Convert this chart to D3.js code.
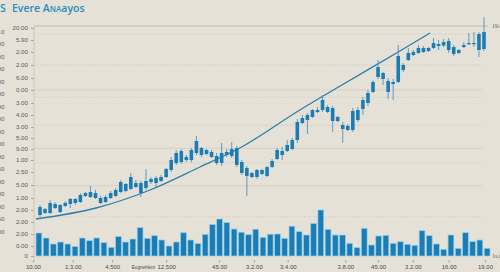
<!DOCTYPE html>
<html>
<head>
<meta charset="utf-8">
<script src="https://cdn.jsdelivr.net/npm/d3@7"></script>
<style>
html, body { margin: 0; padding: 0; background: #e5e1d7; }
svg { display: block; }
</style>
</head>
<body>
<svg id="chart" width="500" height="272"></svg>
<script>
// candles (body low / body high / wick high / wick low), price units
var opens = [41,43,43,48,44,50,52,53,54,60,59,58,53,54,58,60,64,65,67,69,63,68,74,73,75,79,86,93,94,96,96,103,101,102,99,93,93,101,100,91,83,80,79,79,82,80,89,97,101,105,107,116,133,136,139,144,146,144,135,135,127,126,126,136,147,153,164,179,177,164,172,174,186,196,201,203,204,205,208,210,210.5,206,202,203,209,212,212,206,207]
var closes = [49,47,53,52,51,53,57,57,61,63,64,63,58,59,63,66,74,72,79,73,73,75,77,78,79,87,96,103,105,99,106,115,108,106,104,100,103,104,107,108,94,88,83,86,86,89,95,106,105,111,116,134,138,141,146,146,156,149,148,139,131,130,145,146,156,163,174,189,183,175,174,200,191,203,204,208,208,208,213,212,214,215,209,206,211,213,213,222,224]
var highs = [51,48,56,54,52,55,58,58,63,64,70,66,60,61,65,68,76,73,83,76,75,87,79,80,81,88,99,106,107,101,108,120,109,107,106,103,113,107,114,110,96,90,84,87,87,90,97,108,109,116,118,137,141,143,147,149,161,151,150,140,134,132,148,149,159,166,176,196,184,178,177,211,193,208,206,211,210,209,218,216,217,218,211,207,214,223,224,224,239]
var lows = [39,42,42,47,43,49,48,51,53,59,58,57,52,53,57,59,63,64,66,68,59,66,72,69,74,78,84,91,92,94,94,101,99,101,98,91,90,99,98,89,81,60,78,77,81,79,88,96,96,104,106,113,132,122,138,143,144,143,124,134,113,125,124,134,141,150,163,177,171,157,156,173,184,195,200,202,203,204,207,206,209,203,200,202,208,211,209,199,205]

// volumes
var volumes = [23,18,12,14,12,9.5,18,15.3,18,13.3,8.7,19.5,14,17,28.3,17.7,20.3,16,10,14,23.3,16,12.5,21.7,31.5,37,33.5,27,23.8,21.3,26.8,18.7,21.8,22,17.7,29.8,24.3,21,32.5,46,26.7,21,21,12.7,8.3,27.7,11,20,20.7,12.7,14.3,11.7,10.7,25.3,20.3,12,6.7,21,7.7,23.3,14.3,16,7.7]

// trend curve (candle index, price)
var trendIdx = [-0.8, 11.1, 21.8, 31.7, 39.6, 51.5, 59.5, 71, 77.3]
var trendVal = [37, 48, 66, 89, 108, 146, 170, 204, 223]

// axis labels
var yTickVals = [228,216,204,191,178,166,153,141,129,118,107,96,84,71,58,46,34,22,10,0]
var yTickLabels = ["20.00","5.90","2.00","2.00","6.00","0.00","3.00","4.00","3.00","5.00","9.00","1.00","2.50","5.00","1.00","2.00","2.00","2.00","0.00","0"]
var outerLabels = ["3.0","2.00","2.00","1.00","0.00","3.00","4.00","3.00","5.00","9.00","1.00","2.50","5.00","1.00","2.00","2.50","2.00"]
var xTickPos = [-1.4, 6.5, 14.3, 25, 35.5, 42.4, 49.1, 60.5, 67, 73.9, 81, 88.2]
var xTickLabels = ["10.00","1.3.00","4.500","12.500","45.00","3.2.00","3.4.00","3.8.00","45.00","3.2.00","16.00","19.00"]
var gridSolid = [166, 107.7, 70.3]
var gridDotted = [222, 191, 158.7, 130.7, 93.3, 39.3]

const width = 500
const height = 272
var azul = "#1c7db6"
var svg = d3.select("#chart")

svg.append("rect").attr("width", width).attr("height", height).attr("fill", "#e5e1d7")

// escalas
var x = d3.scaleLinear().domain([0, opens.length - 1]).range([40, 484])
var y = d3.scaleLinear().domain([0, 228]).range([256, 28])
var xVol = d3.scaleBand().domain(d3.range(volumes.length)).range([36, 490]).paddingInner(0.2)
var yVol = d3.scaleLinear().domain([0, 50]).range([256, 206])

// grade
svg.append("g").selectAll("line").data(gridSolid).join("line")
    .attr("x1", 34).attr("x2", 482)
    .attr("y1", d => y(d)).attr("y2", d => y(d))
    .attr("stroke", "#d2cdc2").attr("stroke-width", 0.8)
svg.append("g").selectAll("line").data(gridDotted).join("line")
    .attr("x1", 34).attr("x2", 482)
    .attr("y1", d => y(d)).attr("y2", d => y(d))
    .attr("stroke", "#cbc6ba").attr("stroke-width", 0.7)
    .attr("stroke-dasharray", "1.5,1.5")
svg.append("line")
    .attr("x1", 34).attr("x2", 488)
    .attr("y1", y(230)).attr("y2", y(230))
    .attr("stroke", "#b9b3a8").attr("stroke-width", 0.8)

// eixo y
var eixoY = svg.append("g")
    .attr("transform", "translate(34,0)")
    .call(d3.axisLeft(y).tickValues(yTickVals).tickSize(3).tickPadding(3)
        .tickFormat((d, i) => yTickLabels[i]))
eixoY.select(".domain").remove()
eixoY.append("line").attr("x1", 0).attr("x2", 0).attr("y1", 26).attr("y2", 262)
    .attr("stroke", "#c4bfb4").attr("stroke-width", 0.8)
eixoY.selectAll(".tick line").attr("stroke", "#aaa49a")
eixoY.selectAll("text").attr("fill", "#5c5c5c")
    .style("font-family", "'Liberation Sans', sans-serif").style("font-size", "6.2px")

// rotulos cortados da esquerda
var yOuter = d3.scalePoint().domain(d3.range(outerLabels.length)).range([32, 232])
svg.append("g").selectAll("text").data(outerLabels).join("text")
    .attr("x", 4.5).attr("y", (d, i) => yOuter(i)).attr("dy", "0.32em")
    .attr("text-anchor", "end")
    .style("font-family", "'Liberation Sans', sans-serif").style("font-size", "6.2px")
    .attr("fill", "#5c5c5c").text(d => d)

// eixo x
var eixoX = svg.append("g")
    .attr("transform", "translate(0,260)")
    .call(d3.axisBottom(x).tickValues(xTickPos).tickSize(2.5).tickPadding(2)
        .tickFormat((d, i) => xTickLabels[i]))
eixoX.select(".domain").remove()
eixoX.selectAll(".tick line").attr("stroke", "#aaa49a")
eixoX.selectAll("text").attr("fill", "#4a4a4a")
    .style("font-family", "'Liberation Sans', sans-serif").style("font-size", "6px")
svg.append("text").attr("x", x(20.5)).attr("y", 269).attr("text-anchor", "middle")
    .style("font-family", "'Liberation Sans', sans-serif").style("font-size", "4.6px")
    .attr("fill", "#4a4a4a").text("Eugnehlent")

// rotulos da direita
svg.append("text").attr("x", 492).attr("y", y(230)).attr("dy", "0.32em")
    .style("font-family", "'Liberation Serif', serif").style("font-size", "6px")
    .attr("fill", "#5c5c5c").text("19.00")
svg.append("text").attr("x", 492).attr("y", y(0)).attr("dy", "0.32em")
    .style("font-family", "'Liberation Serif', serif").style("font-size", "6px")
    .attr("fill", "#5c5c5c").text("1s.00")

// volume
svg.append("g").selectAll("rect").data(volumes).join("rect")
    .attr("x", (d, i) => xVol(i))
    .attr("width", xVol.bandwidth())
    .attr("y", d => yVol(d))
    .attr("height", d => yVol(0) - yVol(d))
    .attr("fill", azul)
    .attr("stroke", "#8fd0ee").attr("stroke-width", 0.7)

// linha de tendencia
var linha = d3.line()
    .x(i => x(trendIdx[i]))
    .y(i => y(trendVal[i]))
    .curve(d3.curveMonotoneX)
svg.append("path").datum(d3.range(trendIdx.length))
    .attr("d", linha)
    .attr("fill", "none").attr("stroke", "#2a7fad").attr("stroke-width", 1.3)

// velas
var velas = svg.append("g").selectAll("g").data(opens).join("g")
velas.append("line")
    .attr("x1", (d, i) => x(i)).attr("x2", (d, i) => x(i))
    .attr("y1", (d, i) => y(highs[i])).attr("y2", (d, i) => y(lows[i]))
    .attr("stroke", "#4a95c4").attr("stroke-width", 0.9)
velas.append("rect")
    .attr("x", (d, i) => x(i) - 1.8)
    .attr("width", 3.6)
    .attr("y", (d, i) => y(Math.max(opens[i], closes[i])))
    .attr("height", (d, i) => Math.max(1.2, Math.abs(y(opens[i]) - y(closes[i]))))
    .attr("fill", azul)

// titulo
svg.append("text").attr("x", 0).attr("y", 12)
    .style("font-family", "'Open Sans', sans-serif").style("font-size", "10.5px")
    .style("font-weight", "600").attr("fill", "#2b8cc0").text("S")
var titulo = svg.append("text").attr("x", 12).attr("y", 12)
    .style("font-family", "'Open Sans', sans-serif").style("font-size", "10.5px")
    .style("font-weight", "600").attr("fill", "#2b8cc0")
titulo.append("tspan").text("Evere A")
titulo.append("tspan").style("font-size", "8px").text("NA")
titulo.append("tspan").text("ayos")
</script>
</body>
</html>
